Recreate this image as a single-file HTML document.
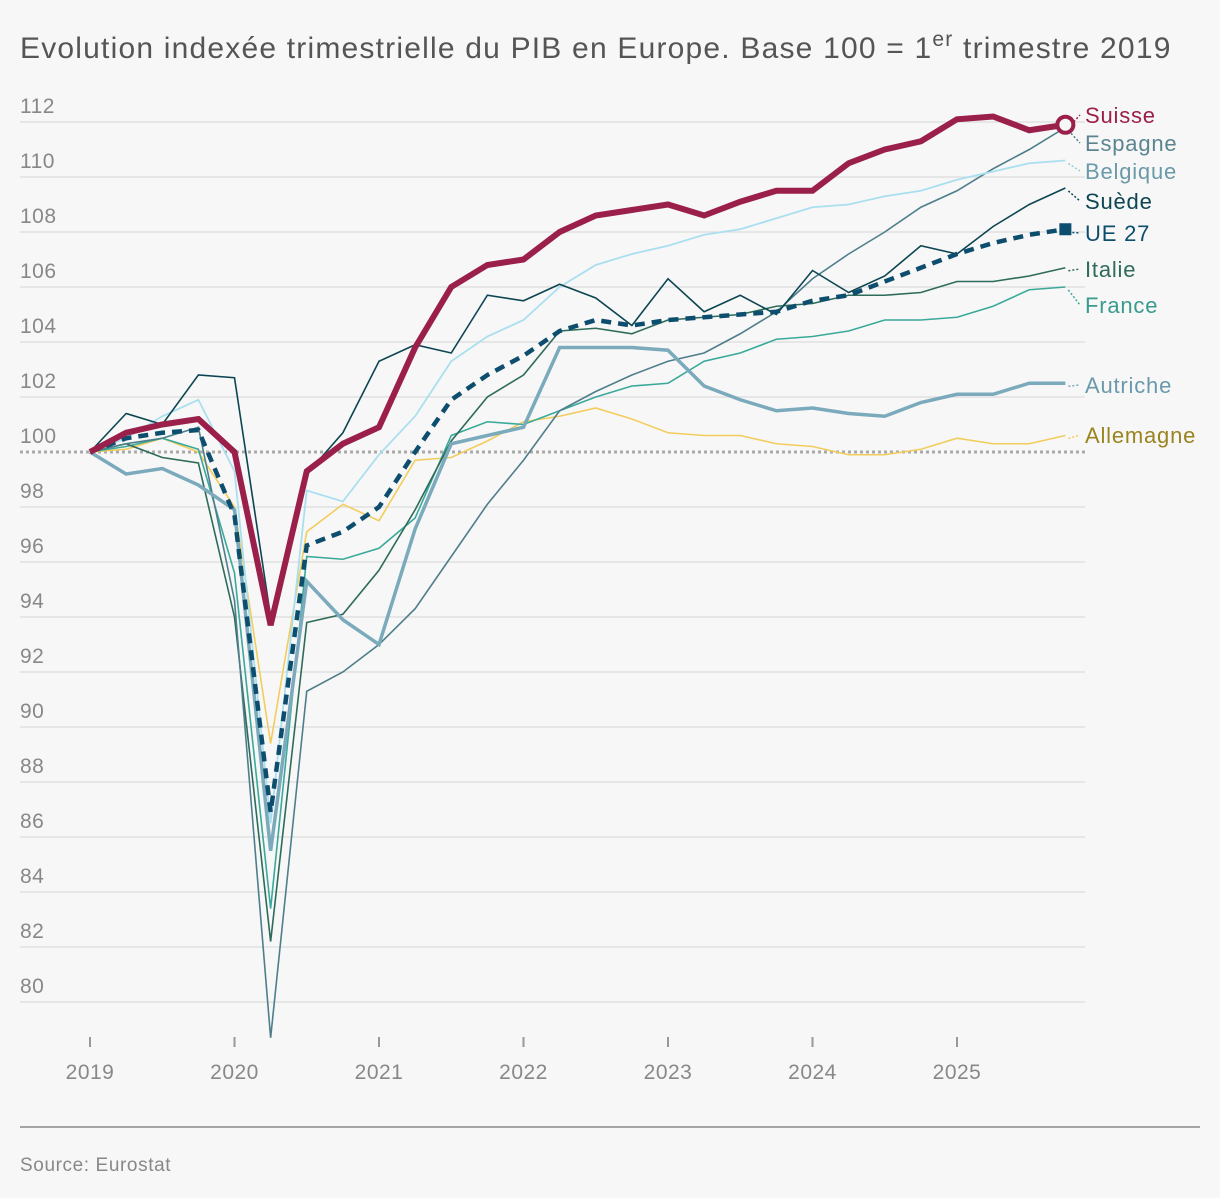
<!DOCTYPE html>
<html><head><meta charset="utf-8">
<style>
body{margin:0;background:#f7f7f7;font-family:"Liberation Sans",sans-serif;}
svg{display:block}
</style></head>
<body>
<svg id="chart" width="1220" height="1198" viewBox="0 0 1220 1198" xmlns="http://www.w3.org/2000/svg">
<rect width="1220" height="1198" fill="#f7f7f7"/>
<text x="20" y="58" font-size="30" letter-spacing="1.2" fill="#555">Evolution indexée trimestrielle du PIB en Europe. Base 100 = 1<tspan dy="-12" font-size="21">er</tspan><tspan dy="12"> trimestre 2019</tspan></text>
<g id="grid"></g><g id="axes"></g><g id="lines"></g><g id="labels"></g>
<line x1="20" y1="1127" x2="1200" y2="1127" stroke="#888" stroke-width="1.5"/>
<text x="20" y="1171" font-size="19" letter-spacing="0.6" fill="#888">Source: Eurostat</text>
</svg>
<script>
const years=[2019,2020,2021,2022,2023,2024,2025];
const yTicks=[80,82,84,86,88,90,92,94,96,98,100,102,104,106,108,110,112];
const suisse=[100,100.7,101.0,101.2,100.0,93.7,99.3,100.3,100.9,103.8,106.0,106.8,107.0,108.0,108.6,108.8,109.0,108.6,109.1,109.5,109.5,110.5,111.0,111.3,112.1,112.2,111.7,111.9];
const espagne=[100,100.3,100.5,100.9,94.6,78.7,91.3,92.0,93.0,94.3,96.2,98.1,99.7,101.5,102.2,102.8,103.3,103.6,104.3,105.1,106.3,107.2,108.0,108.9,109.5,110.3,111.0,111.8];
const belgique=[100,100.5,101.3,101.9,99.3,86.5,98.6,98.2,99.9,101.3,103.3,104.2,104.8,106.0,106.8,107.2,107.5,107.9,108.1,108.5,108.9,109.0,109.3,109.5,109.9,110.2,110.5,110.6];
const suede=[100,101.4,101.0,102.8,102.7,94.0,99.2,100.7,103.3,103.9,103.6,105.7,105.5,106.1,105.6,104.6,106.3,105.1,105.7,105.0,106.6,105.8,106.4,107.5,107.2,108.2,109.0,109.6];
const ue27=[100,100.5,100.7,100.8,97.7,86.9,96.6,97.1,98.0,100.0,101.9,102.8,103.5,104.4,104.8,104.6,104.8,104.9,105.0,105.1,105.5,105.7,106.2,106.7,107.2,107.6,107.9,108.1];
const italie=[100,100.3,99.8,99.6,94.0,82.2,93.8,94.1,95.7,97.9,100.4,102.0,102.8,104.4,104.5,104.3,104.8,104.9,105.0,105.3,105.4,105.7,105.7,105.8,106.2,106.2,106.4,106.7];
const france=[100,100.2,100.5,100.1,95.6,83.4,96.2,96.1,96.5,97.6,100.6,101.1,101.0,101.5,102.0,102.4,102.5,103.3,103.6,104.1,104.2,104.4,104.8,104.8,104.9,105.3,105.9,106.0];
const autriche=[100,99.2,99.4,98.8,97.9,85.5,95.3,93.9,93.0,97.2,100.3,100.6,100.9,103.8,103.8,103.8,103.7,102.4,101.9,101.5,101.6,101.4,101.3,101.8,102.1,102.1,102.5,102.5];
const allemagne=[100,100.1,100.5,100.0,98.0,89.4,97.1,98.1,97.5,99.7,99.8,100.4,101.1,101.3,101.6,101.2,100.7,100.6,100.6,100.3,100.2,99.9,99.9,100.1,100.5,100.3,100.3,100.6];

const NS="http://www.w3.org/2000/svg";
const X=i=>90+i*(144.5/4);
const Y=v=>452-(v-100)*27.5;
function mk(t,a,p){const e=document.createElementNS(NS,t);for(const k in a)e.setAttribute(k,a[k]);p.appendChild(e);return e;}
const grid=document.getElementById('grid'),axes=document.getElementById('axes'),lines=document.getElementById('lines'),labels=document.getElementById('labels');
yTicks.forEach(v=>{
 if(v!==100){const l=mk('line',{x1:20,x2:1085,y1:Y(v),y2:Y(v),stroke:'#dcdcdc','stroke-width':1.2},grid);
 
 }
 const t=mk('text',{x:20,y:Y(v)-9,'font-size':21,'letter-spacing':0.5,fill:'#888'},axes);t.textContent=v;
 
 
});
const base=mk('line',{x1:20,x2:1085,y1:Y(100),y2:Y(100),stroke:'#aaa','stroke-width':3,'stroke-dasharray':'3,3'},grid);


years.forEach((y,i)=>{
 const x=X(i*4);
 const tk=mk('line',{x1:x,x2:x,y1:1037,y2:1047,stroke:'#999','stroke-width':2},axes);
 
 
 const t=mk('text',{x:x,y:1079,'font-size':21,'letter-spacing':0.5,fill:'#888','text-anchor':'middle'},axes);t.textContent=y;
 
 
});
const series=[
 {n:'allemagne',d:allemagne,c:'#f2cd5d',w:1.6,lab:'Allemagne',lc:'#9a8420',ly:443},
 {n:'france',d:france,c:'#3aa99a',w:1.6,lab:'France',lc:'#3a9a8e',ly:313},
 {n:'italie',d:italie,c:'#2e6b5a',w:1.6,lab:'Italie',lc:'#2e6b5a',ly:277},
 {n:'espagne',d:espagne,c:'#4e7e8b',w:1.6,lab:'Espagne',lc:'#5a8590',ly:151},
 {n:'belgique',d:belgique,c:'#aadff0',w:1.8,lab:'Belgique',lc:'#6a9aa8',ly:179},
 {n:'suede',d:suede,c:'#0d4652',w:1.6,lab:'Suède',lc:'#0d4652',ly:209},
 {n:'autriche',d:autriche,c:'#7aaabb',w:3.5,lab:'Autriche',lc:'#6a9aaa',ly:393},
 {n:'ue27',d:ue27,c:'#0d4e6e',w:4.5,dash:'10,7',lab:'UE 27',lc:'#0d4e6e',ly:241},
 {n:'suisse',d:suisse,c:'#9a1f4a',w:6,lab:'Suisse',lc:'#9a1f4a',ly:123}
];
series.forEach(s=>{
 const p=mk('polyline',{points:s.d.map((v,i)=>X(i)+','+Y(v)).join(' '),fill:'none',stroke:s.c,'stroke-width':s.w,'stroke-linejoin':'miter'},lines);
 if(s.dash)p.setAttribute('stroke-dasharray',s.dash);
 
 
 const last=s.d[s.d.length-1];
 const ly=s.ly-8;
 const c=mk('line',{x1:X(27)+3,y1:Y(last)+3,x2:1080,y2:ly,stroke:s.c==='#aadff0'?'#9cc':s.c,'stroke-width':1.5,'stroke-dasharray':'2,2'},labels);
 
 
 const t=mk('text',{x:1085,y:s.ly,'font-size':22,'letter-spacing':0.8,fill:s.lc},labels);t.textContent=s.lab;
 
 
});
const m=mk('rect',{x:X(27)-6,y:Y(ue27[27])-6,width:12,height:12,fill:'#0d4e6e'},labels);


const cc=mk('circle',{cx:X(27),cy:Y(suisse[27]),r:8,fill:'#f7f7f7',stroke:'#9a1f4a','stroke-width':4},labels);


</script>
</body></html>
